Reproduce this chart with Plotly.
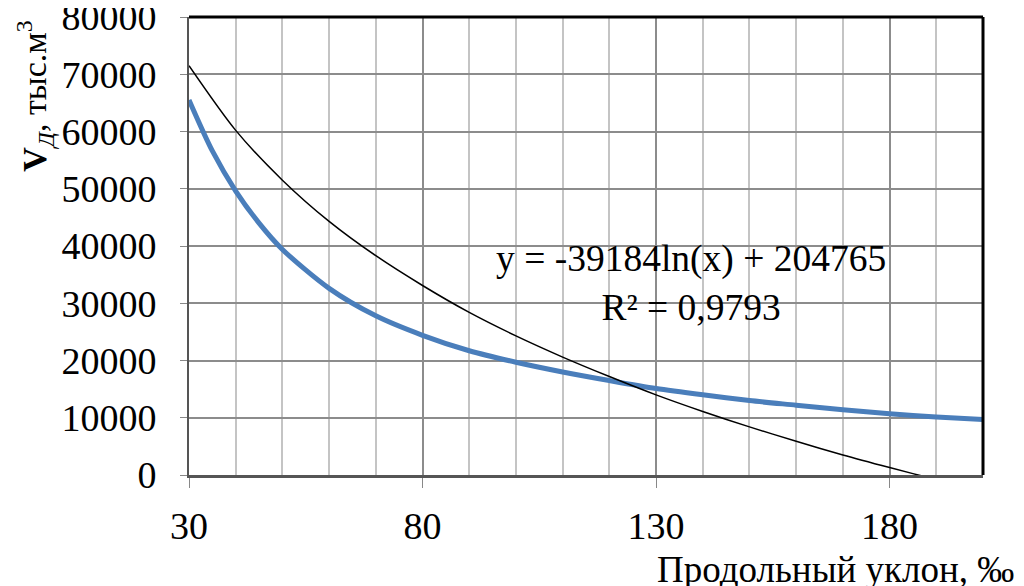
import plotly.graph_objects as go

# Продольный уклон, ‰
slope = [30, 35, 40, 45, 50, 60, 70, 80, 90, 100, 110, 120, 130, 140, 150, 160, 170, 180, 190, 200]
# объём, тыс.м3 (исходные данные, синяя кривая)
volume = [65500, 56600, 49600, 44000, 39400, 32600, 27800, 24400, 21700, 19700, 18000, 16500,
          15100, 14000, 13000, 12200, 11400, 10700, 10150, 9700]
# логарифмическая линия тренда (значения с графика)
trend_x = [30, 40, 50, 60, 70, 80, 90, 100, 110, 120, 130, 140, 150, 160, 170, 180, 190, 200]
trend = [71500, 60200, 51500, 44300, 38300, 33100, 28400, 24300, 20600, 17200,
         14000, 11100, 8400, 5900, 3500, 1300, -800, -2800]

x_ticks = [30, 80, 130, 180]
y_ticks = [0, 10000, 20000, 30000, 40000, 50000, 60000, 70000, 80000]
y_tick_text = [str(v) for v in y_ticks]
trend_label = "y = -39184ln(x) + 204765<br>R² = 0,9793"
x_title = "Продольный уклон, ‰"
y_title = "<b>V</b><sub><i>Д</i></sub>, тыс.м<sup>3</sup>"

FONT = "Liberation Serif, Times New Roman, serif"

fig = go.Figure()
fig.add_trace(go.Scatter(
    x=slope, y=volume, mode="lines", line=dict(color="#4a7ebb", width=5, shape="spline", smoothing=0.8),
    showlegend=False,
))
fig.add_trace(go.Scatter(
    x=trend_x, y=trend, mode="lines", line=dict(color="black", width=1.5, shape="spline", smoothing=0.8),
    showlegend=False,
))

fig.add_annotation(
    x=137.5, y=33600, text=trend_label, showarrow=False, align="center",
    font=dict(family=FONT, size=37.5, color="black"),
)
fig.add_annotation(
    xref="paper", yref="paper", x=1.042, y=-0.206, xanchor="right", yanchor="middle",
    text=x_title, showarrow=False, font=dict(family=FONT, size=37, color="black"),
)
fig.add_annotation(
    xref="paper", yref="paper", x=-0.194, y=0.828, xanchor="center", yanchor="middle",
    text=y_title, textangle=-90, showarrow=False, font=dict(family=FONT, size=34, color="black"),
)

# the page body adds an 8px offset, so the figure is sized/margined to compensate
fig.update_layout(
    width=1016, height=578,
    margin=dict(l=181, r=41, t=9, b=111, autoexpand=False),
    paper_bgcolor="white", plot_bgcolor="white",
    font=dict(family=FONT, size=38, color="black"),
)
fig.update_xaxes(
    range=[30, 200], tickvals=x_ticks, ticks="outside", ticklen=10, tickcolor="#888888",
    ticklabelstandoff=5, ticklabeloverflow="allow",
    showgrid=True, gridcolor="#8c8c8c", gridwidth=1.5,
    minor=dict(dtick=10, tick0=30, showgrid=True, gridcolor="#c4c4c4", gridwidth=1.5),
    showline=True, linecolor="#555555", linewidth=3,
    zeroline=False, automargin=False,
)
fig.update_yaxes(
    range=[0, 80002], tickvals=y_ticks, ticktext=y_tick_text, ticks="outside", ticklen=7,
    tickcolor="#888888", ticklabelstandoff=16, ticklabeloverflow="allow",
    showgrid=True, gridcolor="#8c8c8c", gridwidth=1.5,
    showline=True, linecolor="#555555", linewidth=2,
    zeroline=False, automargin=False,
)

# top and right border of the plot area
fig.add_shape(type="line", xref="paper", yref="paper", x0=0, x1=1, y0=1, y1=1,
              line=dict(color="black", width=3))
fig.add_shape(type="line", xref="paper", yref="paper", x0=1, x1=1, y0=0, y1=1,
              line=dict(color="black", width=3))

fig.write_html("out.html")
